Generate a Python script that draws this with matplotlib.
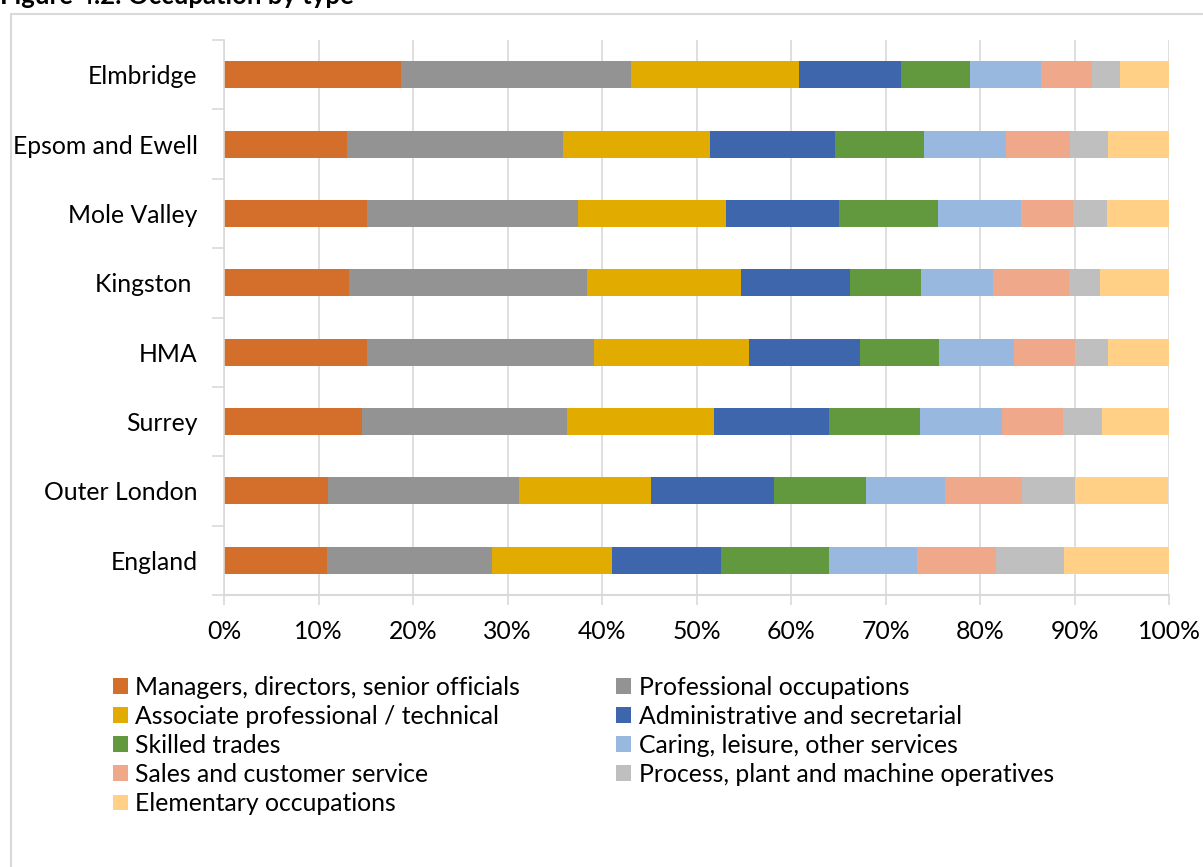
import matplotlib.pyplot as plt
import matplotlib.patches as patches
import numpy as np

plt.rcParams['font.family'] = ['Lato', 'DejaVu Sans']

areas = ["Elmbridge", "Epsom and Ewell", "Mole Valley", "Kingston ", "HMA",
         "Surrey", "Outer London", "England"]

occupations = ["Managers, directors, senior officials", "Professional occupations",
               "Associate professional / technical", "Administrative and secretarial",
               "Skilled trades", "Caring, leisure, other services",
               "Sales and customer service", "Process, plant and machine operatives",
               "Elementary occupations"]

colors = ["#D36E2B", "#939393", "#E2AB00", "#3D66AD", "#62993E",
          "#99B8DF", "#F0A88A", "#BFBFBF", "#FFD085"]

# share (%) per area, one list per occupation
managers = [18.7, 13.0, 15.1, 13.2, 15.1, 14.6, 11.0, 10.9]
professional = [24.4, 22.9, 22.4, 25.2, 24.1, 21.7, 20.2, 17.5]
associate = [17.7, 15.5, 15.6, 16.3, 16.4, 15.6, 14.0, 12.7]
admin = [10.8, 13.3, 12.0, 11.5, 11.7, 12.1, 13.0, 11.5]
skilled = [7.3, 9.4, 10.5, 7.6, 8.4, 9.7, 9.7, 11.4]
caring = [7.6, 8.6, 8.7, 7.6, 7.9, 8.6, 8.4, 9.3]
sales = [5.3, 6.8, 5.5, 8.0, 6.5, 6.5, 8.1, 8.4]
process = [3.0, 4.0, 3.6, 3.3, 3.4, 4.1, 5.7, 7.2]
elementary = [5.3, 6.6, 6.7, 7.3, 6.6, 7.2, 9.8, 11.1]

series = [managers, professional, associate, admin, skilled, caring, sales,
          process, elementary]

fig = plt.figure(figsize=(12.03, 8.67), dpi=100)

# outer chart frame
fig.patches.append(patches.Rectangle((11 / 1203, -0.05), 1.1, 1 - 14 / 867 + 0.05,
                                     transform=fig.transFigure, fill=False,
                                     edgecolor="#D9D9D9", linewidth=1.5))
# title sits mostly above the visible area, as in the source screenshot
fig.text(0.0, 1 - 4 / 867, "Figure 4.2: Occupation by type", fontsize=18.5,
         fontweight='bold', va='baseline', ha='left')

ax = fig.add_axes([224 / 1203, 1 - 595 / 867, (1169 - 224) / 1203, (595 - 40) / 867])

y = np.arange(len(areas))
left = np.zeros(len(areas))
handles = []
for name, vals, c in zip(occupations, series, colors):
    vals = np.array(vals)
    b = ax.barh(y, vals, left=left, height=0.39, color=c, label=name)
    handles.append(b)
    left = left + vals

ax.set_ylim(len(areas) - 0.5, -0.5)
ax.set_xlim(0, 100)
ax.set_xticks(np.arange(0, 101, 10))
ax.set_xticklabels([f"{v}%" for v in range(0, 101, 10)])
ax.set_yticks(y)
ax.set_yticklabels(areas)
ax.set_yticks(np.arange(-0.5, len(areas), 1), minor=True)
ax.tick_params(axis='y', which='major', length=0, pad=19, labelsize=17.8)
ax.tick_params(axis='y', which='minor', length=9, color="#D9D9D9", width=1.2)
ax.tick_params(axis='x', length=7, color="#D9D9D9", width=1.2, labelsize=17.8, pad=11)
ax.grid(axis='x', color="#D9D9D9", linewidth=1.2)
ax.set_axisbelow(True)
for s in ['top', 'right']:
    ax.spines[s].set_visible(False)
ax.spines['left'].set_color("#D9D9D9")
ax.spines['bottom'].set_color("#D9D9D9")
ax.spines['left'].set_linewidth(1.2)
ax.spines['bottom'].set_linewidth(1.5)

order = [0, 2, 4, 6, 8, 1, 3, 5, 7]
leg = fig.legend([handles[i] for i in order], [occupations[i] for i in order],
                 ncol=2, loc='upper left', bbox_to_anchor=(103 / 1203, 1 - 666 / 867),
                 frameon=False, fontsize=17.8, handlelength=0.6, handleheight=0.6,
                 handletextpad=0.3, labelspacing=0.245, columnspacing=3.9,
                 borderaxespad=0)

fig.savefig("out.png", dpi=100)
